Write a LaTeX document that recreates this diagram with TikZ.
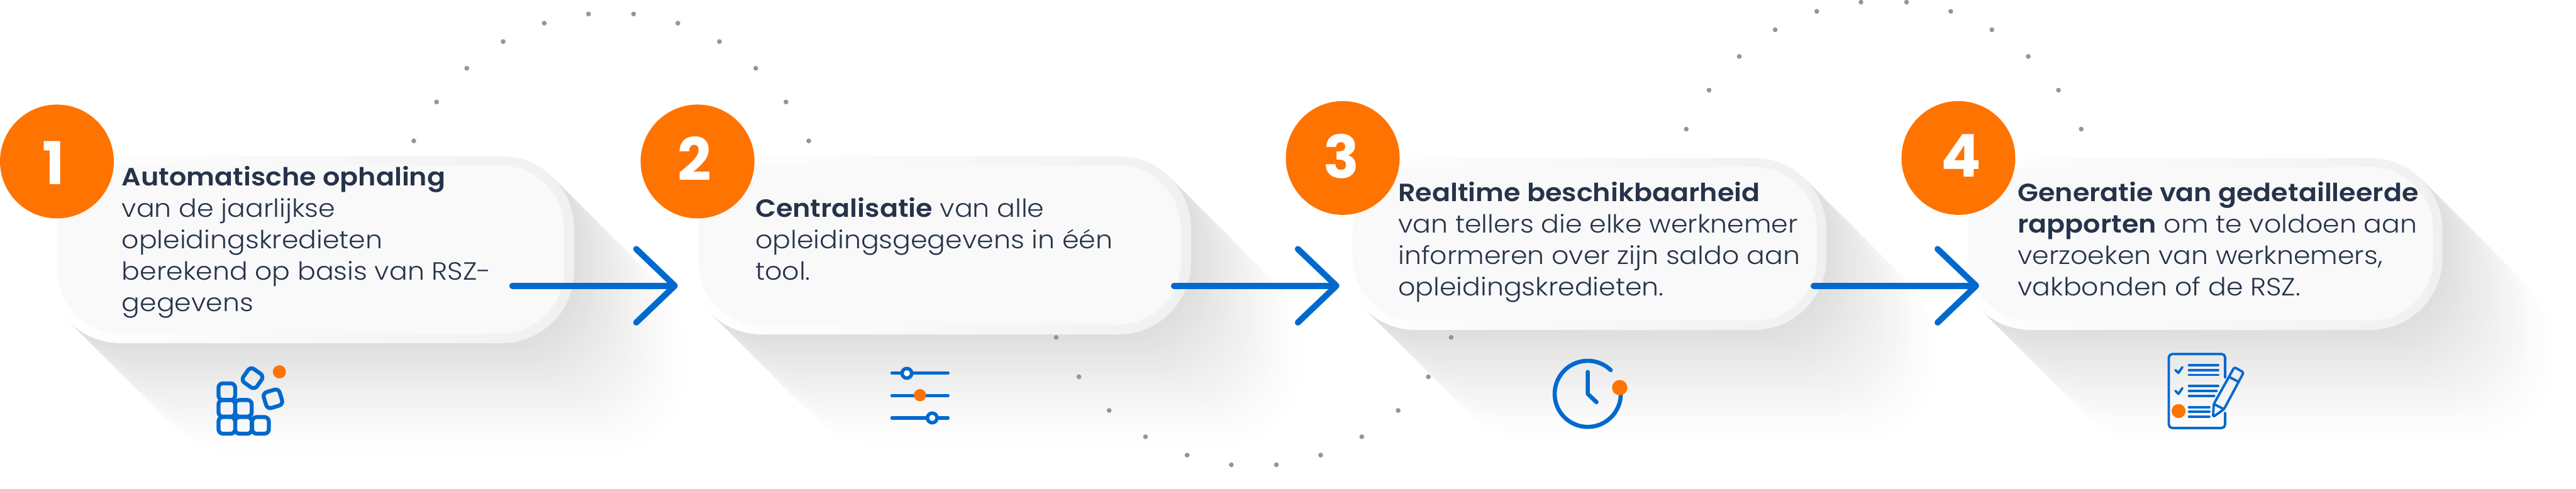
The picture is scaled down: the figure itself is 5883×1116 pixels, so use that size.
\documentclass[tikz,border=0pt]{standalone}
\usepackage{fontspec}
\setmainfont{Poppins Light}[BoldFont={Poppins SemiBold},FakeStretch=1.075,BoldFeatures={FakeStretch=1.08}]
\newfontfamily\digitfont{Poppins Bold}
\usetikzlibrary{arrows.meta,calc}
\definecolor{brandorange}{HTML}{FF7300}
\definecolor{brandblue}{HTML}{0069CE}
\definecolor{inktext}{HTML}{26334A}
\definecolor{dotgrey}{HTML}{959595}
\definecolor{innerfill}{HTML}{F9F9F9}
\definecolor{outerfill}{HTML}{F0F0F0}
\tikzset{
  outerbox/.style={shape=rectangle,inner sep=0pt,outer sep=0pt,rounded corners=165pt,left color=white,right color=outerfill},
  innerbox/.style={shape=rectangle,inner sep=0pt,outer sep=0pt,rounded corners=144pt,fill=innerfill},
  numdisc/.style={shape=circle,fill=brandorange,minimum size=260pt,inner sep=0pt,outer sep=0pt},
  digit/.style={anchor=base,text=white,font=\digitfont\fontsize{135}{135}\selectfont,inner sep=0pt},
  bodytext/.style={anchor=north west,align=left,inner sep=0pt,text=inktext,font=\fontsize{57}{71.7}\selectfont},
  flow/.style={draw=brandblue,line width=14pt,line cap=round,line join=round,-{Straight Barb[round,length=88pt,width=168pt]}},
  icon/.style={draw=brandblue,line width=#1,line cap=round,line join=round},
  icon/.default=5.5pt,
  orangedot/.style={fill=brandorange},
  bgdot/.style={fill=dotgrey},
}
\newcommand{\cardshadow}[4]{%
  \foreach \s in {52,51,...,1}{%
    \pgfmathsetmacro\shadepct{13*(1-\s/52)^1.3}%
    \fill[black!\shadepct,rounded corners=165pt] (#1+\s*5,#3+\s*5) rectangle (#2+\s*5,#4+\s*5);
  }%
}
\begin{document}
\begin{tikzpicture}[x=1pt,y=-1pt]
\useasboundingbox (0,0) rectangle (5883,1116);
\fill[white] (0,0) rectangle (5883,1116);
% long shadows
\cardshadow{110}{1311}{357}{784}
\cardshadow{1574}{2720}{357}{764}
\cardshadow{3068}{4171}{361}{754}
\cardshadow{4473}{5578}{361}{754}
% background dots
\foreach \x/\y in {1344/32,1447/32,1243/53,1548/53,1149/95,1643/95,1066/156,1726/156,997/233,1795/233,945/322,1847/322,
  4250/5,4354/5,4149/26,4455/26,4054/68,4549/68,3972/129,4632/129,3903/206,4701/206,3851/295,4753/295,
  2412/771,3314/771,2464/861,3262/861,2533/938,3193/938,2616/998,3110/998,2711/1040,3016/1040,2812/1062,2915/1062}
  \fill[bgdot] (\x,\y) circle (5.5pt);
% cards
\node[outerbox,minimum width=1201pt,minimum height=427pt] (outer1) at (710.5,570.5) {};
\node[innerbox,minimum width=1157pt,minimum height=384pt] (card1) at (709.5,570) {};
\node[outerbox,minimum width=1146pt,minimum height=407pt] (outer2) at (2147,560.5) {};
\node[innerbox,minimum width=1102pt,minimum height=364pt] (card2) at (2146,560) {};
\node[outerbox,minimum width=1103pt,minimum height=393pt] (outer3) at (3619.5,557.5) {};
\node[innerbox,minimum width=1061pt,minimum height=351pt] (card3) at (3619.5,557.5) {};
\node[outerbox,minimum width=1105pt,minimum height=393pt] (outer4) at (5025.5,557.5) {};
\node[innerbox,minimum width=1063pt,minimum height=351pt] (card4) at (5025.5,557.5) {};
% number discs
\node[numdisc] (disc1) at (130,369) {};
\node[numdisc] (disc2) at (1593,369) {};
\node[numdisc] (disc3) at (3066.5,361) {};
\node[numdisc] (disc4) at (4472.5,361) {};
\node[digit] (num1) at (122,421) {1};
\node[digit] (num2) at (1586,413) {2};
\node[digit] (num3) at (3064,407) {3};
\node[digit] (num4) at (4479,405) {4};
% texts
\node[bodytext] (text1) at (278,380) {\textbf{Automatische ophaling}\\van de jaarlijkse\\opleidingskredieten\\berekend op basis van RSZ-\\gegevens};
\node[bodytext] (text2) at (1725,452) {\textbf{Centralisatie} van alle\\opleidingsgegevens in één\\tool.};
\node[bodytext] (text3) at (3193,416) {\textbf{Realtime beschikbaarheid}\\van tellers die elke werknemer\\informeren over zijn saldo aan\\opleidingskredieten.};
\node[bodytext] (text4) at (4608,416) {\textbf{Generatie van gedetailleerde}\\\textbf{rapporten} om te voldoen aan\\verzoeken van werknemers,\\vakbonden of de RSZ.};
% connectors
\coordinate (a1s) at (1170,653); \coordinate (a1e) at (1548,653);
\coordinate (a2s) at (2681,653); \coordinate (a2e) at (3059,653);
\coordinate (a3s) at (4142,653); \coordinate (a3e) at (4520,653);
\draw[flow] (a1s) -- (a1e);
\draw[flow] (a2s) -- (a2e);
\draw[flow] (a3s) -- (a3e);
% icon 1: blocks
\foreach \x/\y in {518/895,518/933,556/933,518/972,556/972,595/972}
  \draw[icon=9pt,rounded corners=10pt] (\x-19,\y-19) rectangle (\x+19,\y+19);
\draw[icon=9pt,shift={(576.7,864.3)},rotate=-35,rounded corners=10pt] (-19,-19) rectangle (19,19);
\draw[icon=9pt,shift={(623.3,911.3)},rotate=17,rounded corners=10pt] (-19,-19) rectangle (19,19);
\fill[orangedot] (638,849.7) circle (15pt);
% icon 2: sliders
\draw[icon=7.5pt] (2037,852) -- (2165,852);
\draw[icon=7.5pt] (2037,904) -- (2165,904);
\draw[icon=7.5pt] (2037,955) -- (2165,955);
\draw[icon=8pt,fill=white] (2071,853) circle (11pt);
\fill[orangedot] (2101,903) circle (14pt);
\draw[icon=8pt,fill=white] (2129,955) circle (11pt);
% icon 3: clock
\draw[icon=9.5pt] plot[domain=46:368,samples=90] ({3626+75.5*cos(\x)},{900-75.5*sin(\x)});
\draw[icon=9.5pt] (3626,850) -- (3626,900) -- (3646,919);
\fill[orangedot] (3699,885.7) circle (17.5pt);
% icon 4: checklist and pencil
\draw[icon,rounded corners=8pt] (5081.7,863) -- (5081.7,809) -- (4953,809) -- (4953,978) -- (5081.7,978) -- (5081.7,943);
\draw[icon] (4968,845.7) -- (4975,852) -- (4984,839);
\draw[icon] (4968,893) -- (4975,900) -- (4984,887);
\draw[icon] (4999,834.7) -- (5065.7,834.7);
\draw[icon] (4999,845.7) -- (5065.7,845.7);
\draw[icon] (4999,856.7) -- (5065.7,856.7);
\draw[icon] (4999,882.3) -- (5065.7,882.3);
\draw[icon] (4999,893.3) -- (5062,893.3);
\draw[icon] (4999,904.3) -- (5056.7,904.3);
\draw[icon] (4999,930.3) -- (5045.7,930.3);
\draw[icon] (4999,941.3) -- (5045.7,941.3);
\draw[icon] (4999,952.3) -- (5045.7,952.3);
\fill[orangedot] (4975.3,939.3) circle (16pt);
\draw[icon,rounded corners=4pt] (5054,953) -- (5055.7,923.3) -- (5102.7,839) -- (5124,851) -- (5079,935) -- cycle;
\draw[icon] (5055.7,923.3) -- (5079,935);
\draw[icon] (5091.7,861.7) -- (5110.7,871.7);
\end{tikzpicture}
\end{document}
